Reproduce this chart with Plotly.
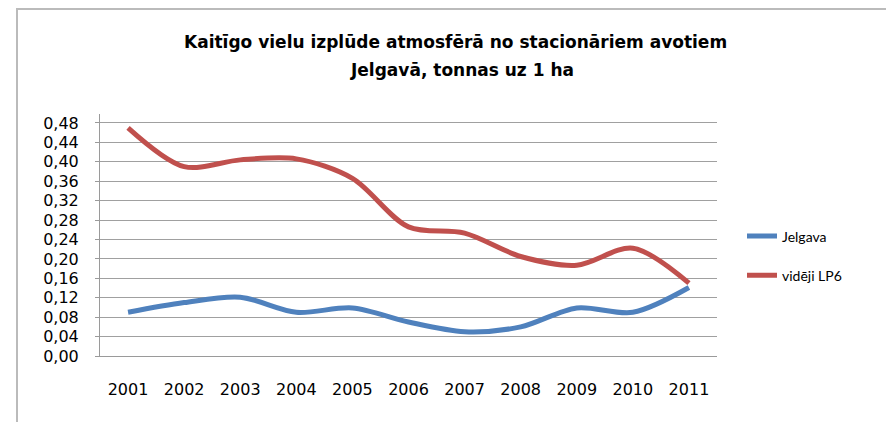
import plotly.graph_objects as go

years = ["2001", "2002", "2003", "2004", "2005", "2006", "2007", "2008", "2009", "2010", "2011"]
jelgava = [0.090, 0.110, 0.121, 0.090, 0.099, 0.070, 0.050, 0.060, 0.099, 0.090, 0.141]
lp6 = [0.470, 0.390, 0.404, 0.406, 0.366, 0.266, 0.253, 0.205, 0.187, 0.222, 0.150]
series_names = ["Jelgava", "vidēji LP6"]
title_lines = ["Kaitīgo vielu izplūde atmosfērā no stacionāriem avotiem", "Jelgavā, tonnas uz 1 ha"]
y_ticks = [0.00, 0.04, 0.08, 0.12, 0.16, 0.20, 0.24, 0.28, 0.32, 0.36, 0.40, 0.44, 0.48]

FONT = "DejaVu Sans"
LFONT = "Lato"

# page layout (page has an 8px body offset)
OFF = 8
PL, PR, PT, PB = 100, 717, 114, 356
W, H = 894, 422


def px(x):
    return (x - PL) / (PR - PL)


def py(y):
    return (PB - y) / (PB - PT)


fig = go.Figure()
fig.add_trace(go.Scatter(x=years, y=jelgava, name=series_names[0], mode="lines",
                         line=dict(color="#4F81BD", width=5, shape="spline", smoothing=0.9),
                         legendgroup="a"))
fig.add_trace(go.Scatter(x=years, y=lp6, name=series_names[1], mode="lines",
                         line=dict(color="#C0504D", width=5, shape="spline", smoothing=0.9),
                         legendgroup="b"))

fig.update_layout(
    width=W, height=H,
    margin=dict(l=PL - OFF, r=W + OFF - PR, t=PT - OFF, b=H + OFF - PB, autoexpand=False),
    paper_bgcolor="white", plot_bgcolor="white",
    font=dict(family=FONT, size=14, color="black"),
    separators=",.",
    showlegend=True,
    legend=dict(x=px(742), y=py(256), xanchor="left", yanchor="middle",
                font=dict(family=LFONT, size=14), tracegroupgap=18,
                traceorder="grouped", bgcolor="rgba(0,0,0,0)"),
    xaxis=dict(type="category", range=[-0.5, 10.5], showgrid=False, showline=True,
               linecolor="#9a9a9a", linewidth=1, ticks="", ticklabelstandoff=19,
               tickfont=dict(family=FONT, size=16)),
    yaxis=dict(range=[0, 0.4985], tickvals=y_ticks, tickformat=".2f",
               showgrid=True, gridcolor="#a0a0a0", gridwidth=1,
               showline=True, linecolor="#9a9a9a", linewidth=1,
               ticks="outside", ticklen=4, tickcolor="#9a9a9a",
               ticklabelstandoff=13, zeroline=False,
               tickfont=dict(family=FONT, size=16)),
    shapes=[dict(type="rect", xref="paper", yref="paper",
                 x0=px(17), x1=px(910), y0=py(440), y1=py(9),
                 line=dict(color="#bbbbbb", width=2), layer="below")],
    annotations=[
        dict(text="<b>" + title_lines[0] + "</b>", xref="paper", yref="paper",
             x=px(455), y=py(42), xanchor="center", yanchor="middle",
             showarrow=False, font=dict(family=FONT, size=17)),
        dict(text="<b>" + title_lines[1] + "</b>", xref="paper", yref="paper",
             x=px(462), y=py(70), xanchor="center", yanchor="middle",
             showarrow=False, font=dict(family=FONT, size=17)),
    ],
)

fig.write_html("out.html")
